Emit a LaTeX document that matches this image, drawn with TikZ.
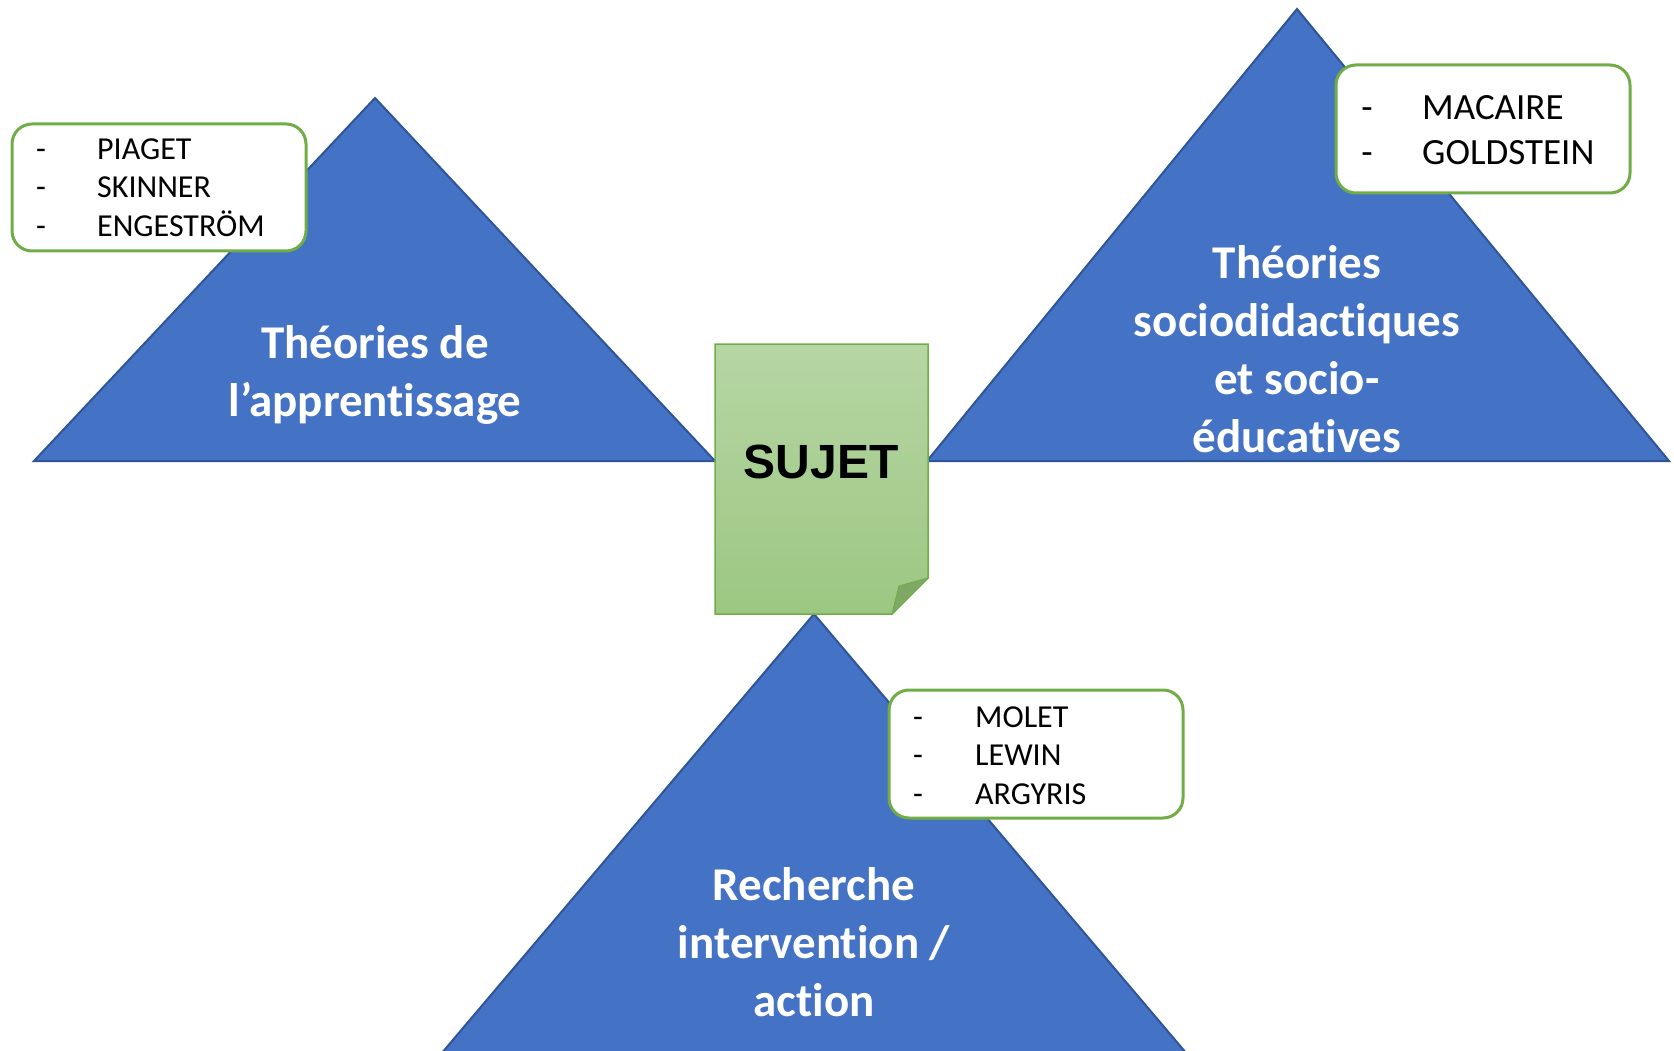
\documentclass[tikz,border=0pt]{standalone}
\usepackage{fontspec}
\setmainfont[Ligatures=NoCommon]{Carlito}
\newfontfamily\arialfont{Liberation Sans}
\definecolor{triblue}{HTML}{4472C4}
\definecolor{triedge}{HTML}{2F5597}
\definecolor{boxgreen}{HTML}{70AD47}
\definecolor{sujtop}{HTML}{B6D6A4}
\definecolor{sujbot}{HTML}{9CC782}
\definecolor{foldcol}{HTML}{7FA867}
\tikzset{
  tri/.style={fill=triblue, draw=triedge, line width=2pt, line join=miter},
  title/.style={text=white, font=\bfseries\fontsize{47}{58}\selectfont, align=center, inner sep=0pt},
  listbox/.style={draw=boxgreen, line width=3pt, fill=white, rounded corners=20pt},
  namesmall/.style={font=\fontsize{32}{38}\selectfont, inner sep=0pt, anchor=base west},
  dashsmall/.style={font=\fontsize{32}{38}\selectfont, inner sep=0pt, anchor=base},
  namebig/.style={font=\fontsize{37}{45}\selectfont, inner sep=0pt, anchor=base west},
  dashbig/.style={font=\fontsize{37}{45}\selectfont, inner sep=0pt, anchor=base},
}
\begin{document}
\begin{tikzpicture}[x=1pt,y=-1pt]
\useasboundingbox (0,0) rectangle (1674,1051);
\clip (0,0) rectangle (1674,1051);
% triangles
\draw[tri] (34,461) -- (375,98) -- (715,461) -- cycle;
\draw[tri] (927,461) -- (1297,9) -- (1669,461) -- cycle;
\draw[tri] (402,1100) -- (814,614) -- (1226,1100) -- cycle;
% titles
\node[title] (tleft) at (375,375) {Théories de\\l’apprentissage};
\node[title] (tright) at (1297,349) {Théories\\sociodidactiques\\et socio-\\éducatives};
\node[title] (tbottom) at (814,942) {Recherche\\intervention /\\action};
% SUJET
\path[top color=sujtop, bottom color=sujbot, draw=boxgreen, line width=1.5pt]
  (715,344) -- (928,344) -- (928,578) -- (892,614) -- (715,614) -- cycle;
\draw[fill=foldcol, draw=boxgreen, line width=1pt] (892,614) -- (899,586) -- (928,578) -- cycle;
\node[font=\arialfont\bfseries\fontsize{48}{58}\selectfont, inner sep=0pt] (sujet) at (821,462) {SUJET};
% left list
\node[listbox, minimum width=294pt, minimum height=127pt] (lbox) at (159,187.5) {};
\node[dashsmall] (ld1) at (41,160) {-};
\node[dashsmall] (ld2) at (41,198) {-};
\node[dashsmall] (ld3) at (41,237) {-};
\node[namesmall] (ln1) at (97,160) {PIAGET};
\node[namesmall] (ln2) at (97,198) {SKINNER};
\node[namesmall] (ln3) at (97,237) {ENGESTRÖM};
% right list
\node[listbox, minimum width=294pt, minimum height=128pt] (rbox) at (1483,129) {};
\node[dashbig] (rd1) at (1367,120) {-};
\node[dashbig] (rd2) at (1367,165) {-};
\node[namebig] (rn1) at (1422,120) {MACAIRE};
\node[namebig] (rn2) at (1422,165) {GOLDSTEIN};
% bottom list
\node[listbox, minimum width=294pt, minimum height=128pt] (bbox) at (1036,754) {};
\node[dashsmall] (bd1) at (918,727) {-};
\node[dashsmall] (bd2) at (918,765) {-};
\node[dashsmall] (bd3) at (918,804) {-};
\node[namesmall] (bn1) at (975,727) {MOLET};
\node[namesmall] (bn2) at (975,765) {LEWIN};
\node[namesmall] (bn3) at (975,804) {ARGYRIS};
\end{tikzpicture}
\end{document}
